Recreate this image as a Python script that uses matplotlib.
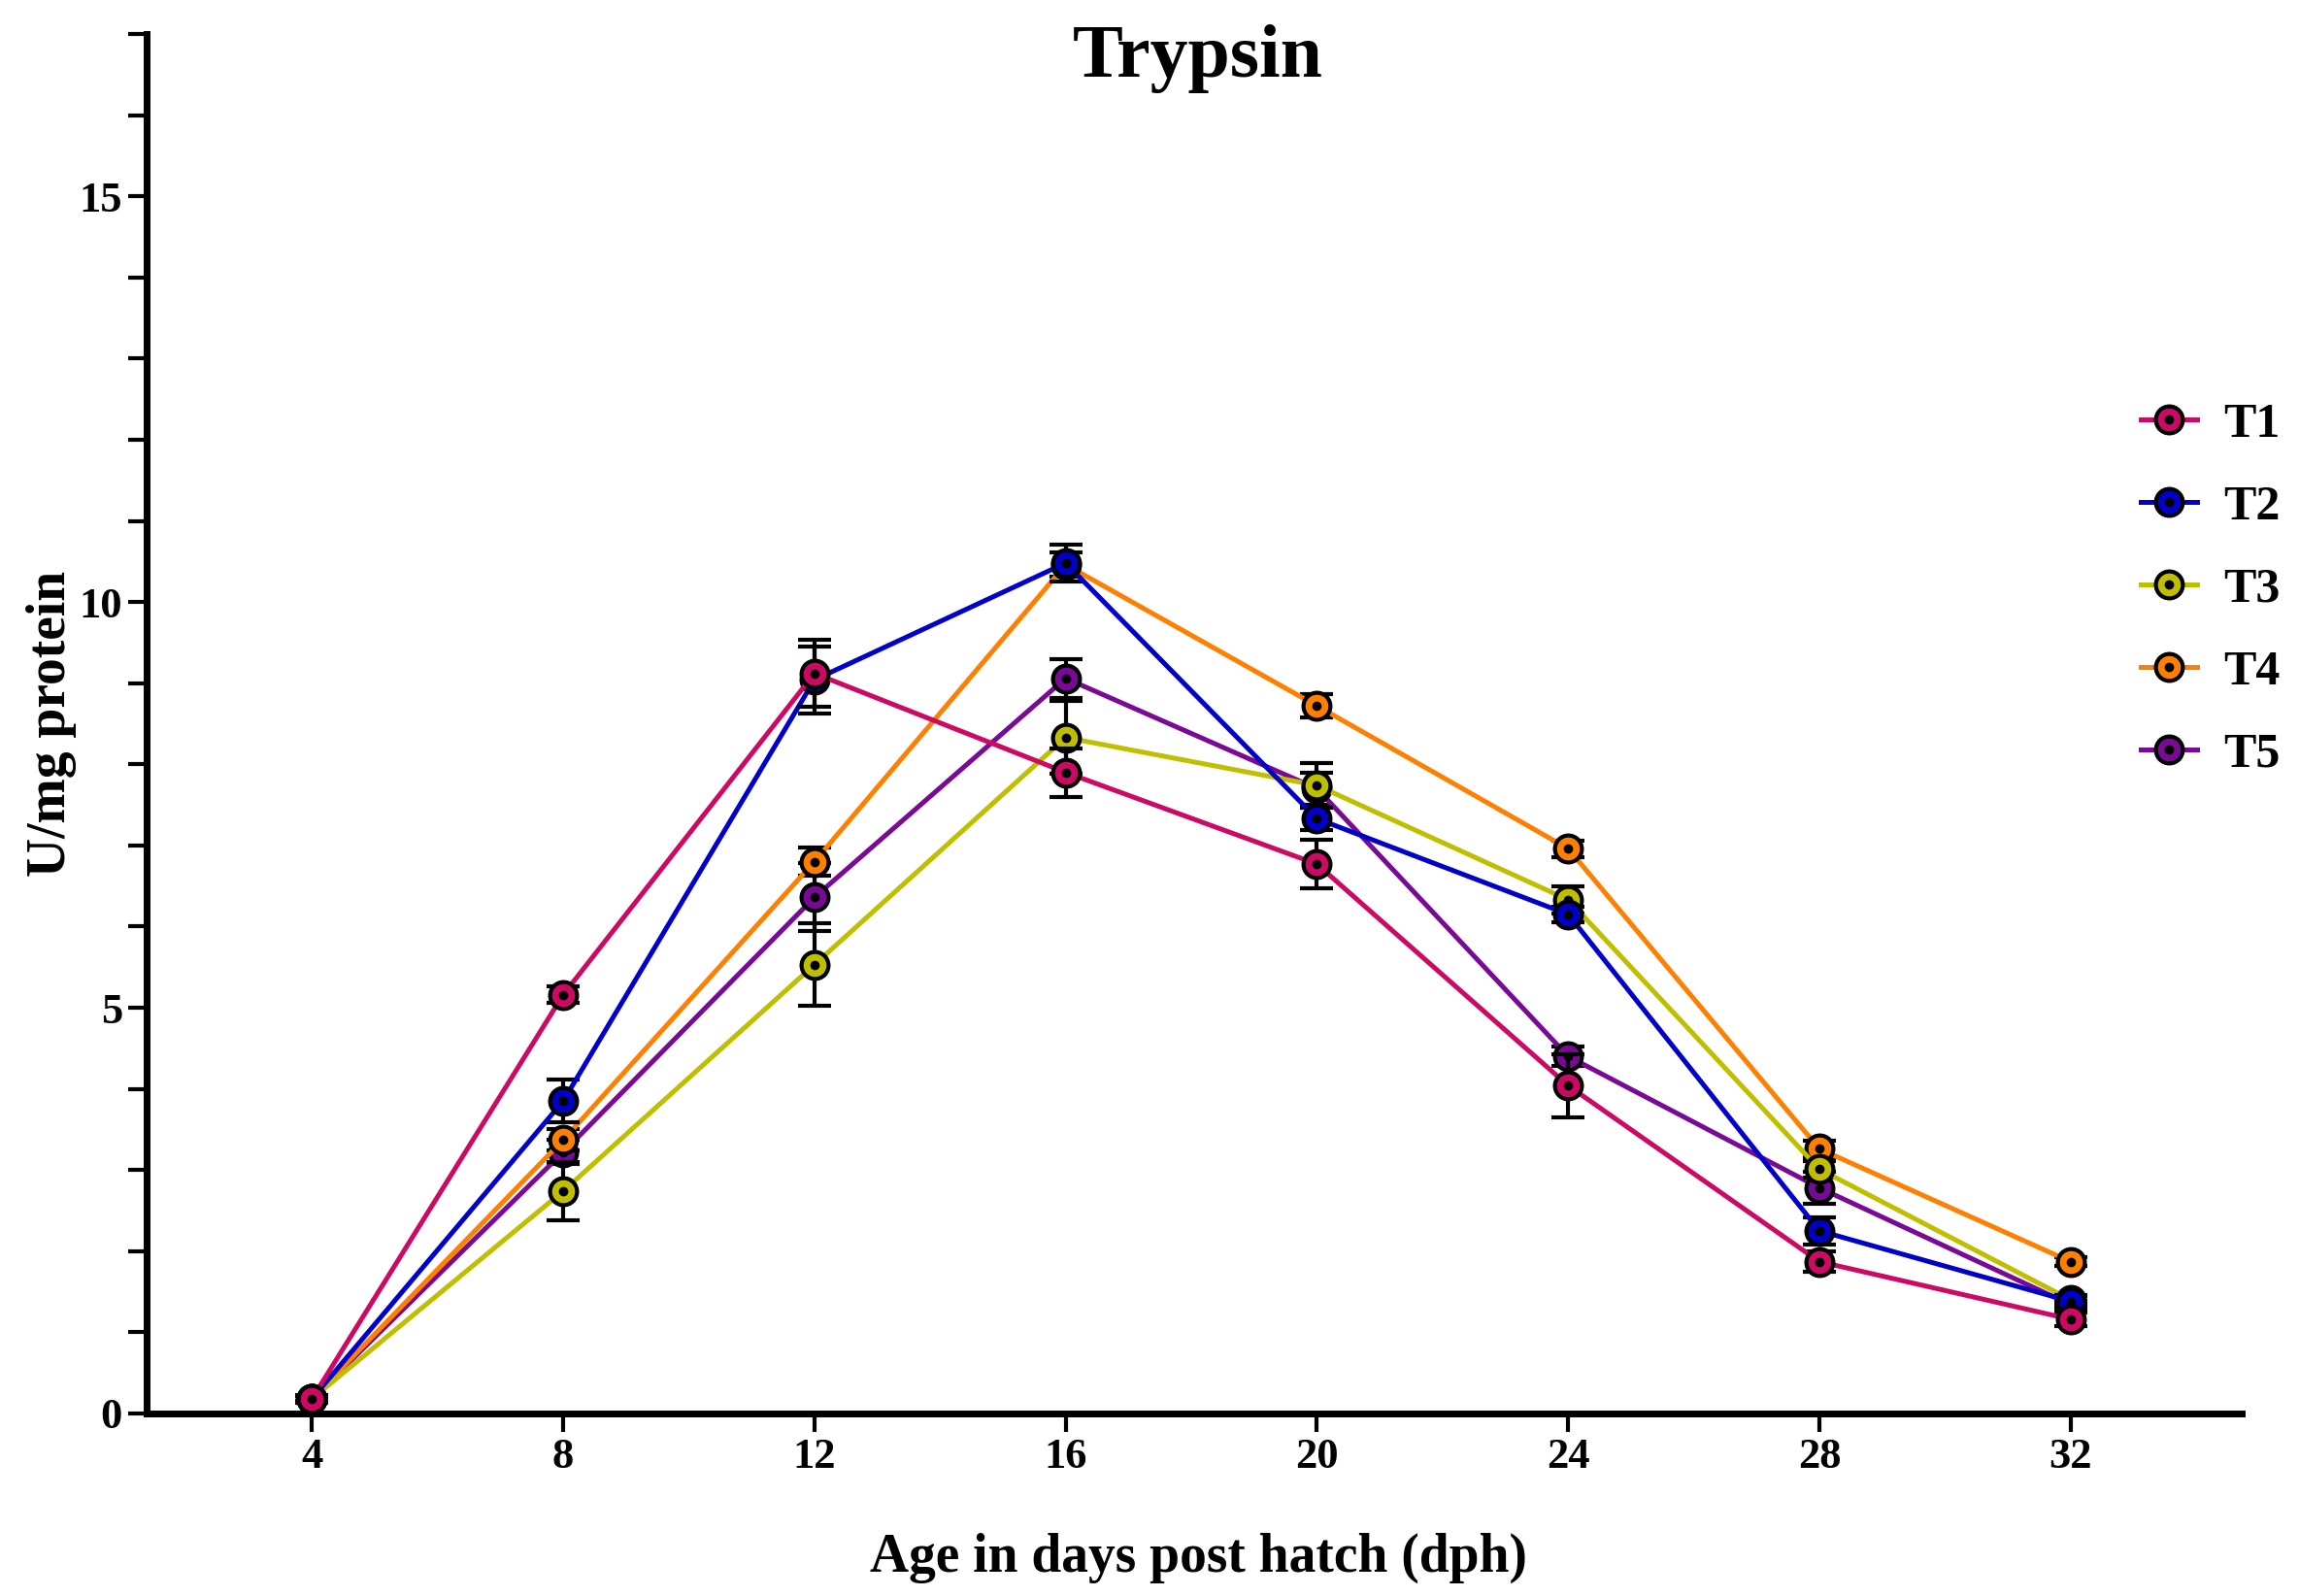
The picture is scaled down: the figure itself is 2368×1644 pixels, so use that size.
import matplotlib
matplotlib.use("Agg")
import matplotlib.pyplot as plt
from matplotlib.ticker import MultipleLocator
from matplotlib.lines import Line2D

plt.rcParams['font.family'] = ['Liberation Serif', 'DejaVu Serif']
plt.rcParams['font.weight'] = 'bold'

# data (mean and error per sampling day)
days = [4, 8, 12, 16, 20, 24, 28, 32]
labels = ["T1", "T2", "T3", "T4", "T5"]
t1 = [0.18, 5.16, 9.12, 7.90, 6.77, 4.04, 1.87, 1.16]
t1_err = [0.05, 0.10, 0.41, 0.30, 0.30, 0.39, 0.13, 0.08]
t2 = [0.18, 3.85, 9.04, 10.48, 7.33, 6.15, 2.25, 1.38]
t2_err = [0.03, 0.26, 0.41, 0.23, 0.14, 0.10, 0.17, 0.08]
t3 = [0.18, 2.74, 5.53, 8.33, 7.74, 6.33, 3.01, 1.40]
t3_err = [0.03, 0.36, 0.51, 0.45, 0.27, 0.17, 0.10, 0.05]
t4 = [0.18, 3.37, 6.80, 10.46, 8.72, 6.96, 3.26, 1.87]
t4_err = [0.03, 0.13, 0.17, 0.15, 0.14, 0.10, 0.10, 0.05]
t5 = [0.18, 3.22, 6.36, 9.06, 7.70, 4.40, 2.78, 1.34]
t5_err = [0.03, 0.15, 0.42, 0.24, 0.20, 0.12, 0.20, 0.05]

series = [t1, t2, t3, t4, t5]
errors = [t1_err, t2_err, t3_err, t4_err, t5_err]
colors = ['#CC0A64', '#0000C8', '#BFBF00', '#FF8000', '#790A96']

fig = plt.figure(figsize=(23.68, 16.44), dpi=100)
ax = fig.add_axes([0.0637, 0.1144, 0.9113, 0.8643])

handles = []
for i in range(len(series)):
    z = 30 - 4 * i
    ax.errorbar(days, series[i], yerr=errors[i], fmt='none', ecolor='black',
                elinewidth=3, capsize=12, capthick=3, zorder=z)
    ln, = ax.plot(days, series[i], color=colors[i], lw=3.6, marker='o', ms=20,
                  mfc=colors[i], mec='black', mew=3, zorder=z + 1)
    ax.plot(days, series[i], ls='none', marker='o', ms=6, color='black', zorder=z + 2)
    dot = Line2D([], [], ls='none', marker='o', ms=6, color='black')
    handles.append((ln, dot))

ax.set_xlim(1.365, 34.72)
ax.set_ylim(0, 17)
ax.set_xticks(days)
ax.yaxis.set_major_locator(MultipleLocator(5))
ax.yaxis.set_minor_locator(MultipleLocator(1))

for s in ['top', 'right']:
    ax.spines[s].set_visible(False)
for s in ['left', 'bottom']:
    ax.spines[s].set_linewidth(5)

ax.tick_params(axis='both', which='major', length=14, width=3, labelsize=32, pad=4)
ax.tick_params(axis='y', which='minor', length=14, width=3)
for lab in ax.get_xticklabels() + ax.get_yticklabels():
    lab.set_fontweight('bold')

fig.text(1234 / 2368, 1 - 60 / 1644, "Trypsin", ha='center', va='center',
         fontsize=56, fontweight='bold')
fig.text(1234 / 2368, 1 - 1605 / 1644, "Age in days post hatch (dph)", ha='center',
         va='center', fontsize=40, fontweight='bold')
fig.text(53 / 2368, 1 - 745 / 1644, "U/mg protein", ha='center', va='center',
         rotation=90, fontsize=40, fontweight='bold')

ax.legend(handles, labels, loc='center left', bbox_to_anchor=(2160 / 2368, 1 - 608 / 1644),
          bbox_transform=fig.transFigure, frameon=False,
          handlelength=1.15, handletextpad=0.55, labelspacing=0.78,
          prop={'weight': 'bold', 'size': 36})

fig.savefig("out.png", dpi=100)
